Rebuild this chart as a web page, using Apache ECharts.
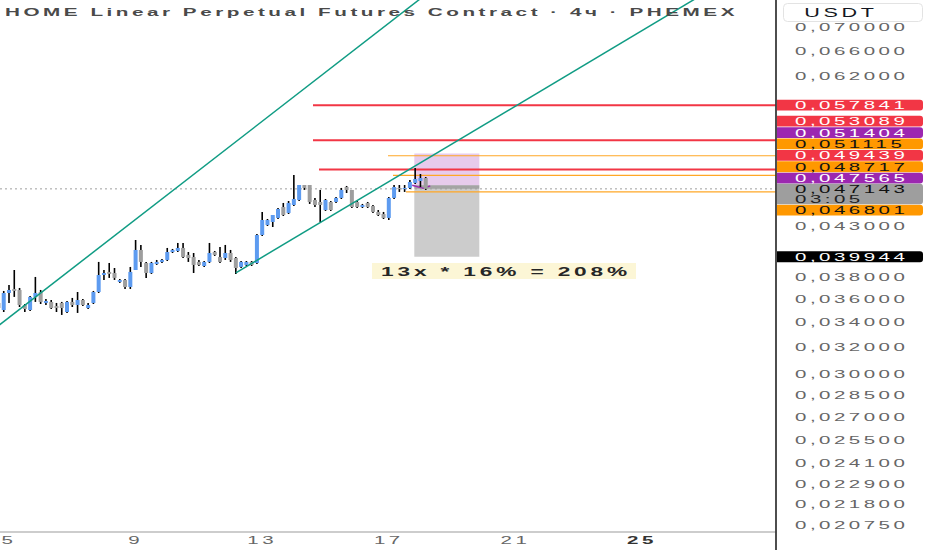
<!DOCTYPE html>
<html>
<head>
<meta charset="utf-8">
<script src="https://cdn.jsdelivr.net/npm/echarts@6.0.0/dist/echarts.min.js"></script>
<style>
html,body{margin:0;padding:0;background:#ffffff;}
#chart{width:932px;height:550px;}
#chart text{letter-spacing:0.17em;}
</style>
</head>
<body>
<div id="chart"></div>
<script>
// ---------- data ----------
const titleText = 'HOME Linear Perpetual Futures Contract · 4ч · PHEMEX';
const quoteText = 'USDT';
// 4h bars, first bar opens at day 4 20:00
const firstBarDay = 5 - 2 / 6;
const barStep = 1 / 6;
// [open, close, low, high]
const ohlc = [
  [0.03568,0.03524,0.03507,0.03585],[0.03507,0.03656,0.03490,0.03674],[0.03656,0.03683,0.03568,0.03728],
  [0.03692,0.03674,0.03621,0.03867],[0.03683,0.03550,0.03533,0.03701],[0.03550,0.03516,0.03490,0.03559],
  [0.03507,0.03621,0.03499,0.03629],[0.03621,0.03656,0.03577,0.03802],[0.03665,0.03577,0.03559,0.03683],
  [0.03568,0.03585,0.03550,0.03603],[0.03577,0.03524,0.03516,0.03594],[0.03542,0.03524,0.03490,0.03568],
  [0.03568,0.03524,0.03465,0.03577],[0.03490,0.03577,0.03482,0.03585],[0.03577,0.03550,0.03533,0.03612],
  [0.03550,0.03594,0.03482,0.03665],[0.03594,0.03550,0.03542,0.03603],[0.03524,0.03550,0.03516,0.03568],
  [0.03568,0.03665,0.03559,0.03674],[0.03665,0.03820,0.03656,0.03944],[0.03820,0.03839,0.03774,0.03867],
  [0.03849,0.03830,0.03793,0.03934],[0.03839,0.03793,0.03774,0.03886],[0.03756,0.03774,0.03747,0.03783],
  [0.03774,0.03710,0.03692,0.03783],[0.03710,0.03849,0.03692,0.03896],[0.03867,0.04061,0.03867,0.04161],
  [0.04061,0.03944,0.03896,0.04111],[0.03934,0.03839,0.03793,0.03944],[0.03839,0.03934,0.03830,0.03944],
  [0.03924,0.03944,0.03915,0.03963],[0.03944,0.03963,0.03934,0.03973],[0.03963,0.04041,0.03953,0.04081],
  [0.04041,0.04061,0.04031,0.04071],[0.04051,0.04081,0.04041,0.04131],[0.04081,0.03992,0.03982,0.04131],
  [0.04012,0.03982,0.03944,0.04041],[0.03992,0.03915,0.03839,0.04031],[0.03944,0.03915,0.03905,0.03963],
  [0.03905,0.03944,0.03896,0.03953],[0.03944,0.04031,0.03934,0.04131],[0.04041,0.04012,0.04002,0.04051],
  [0.03992,0.03944,0.03934,0.04091],[0.03982,0.04031,0.03963,0.04111],[0.04031,0.03963,0.03944,0.04061],
  [0.03982,0.03886,0.03830,0.03992],[0.03896,0.03944,0.03886,0.03953],[0.03915,0.03944,0.03905,0.03953],
  [0.03944,0.03915,0.03905,0.03953],[0.03934,0.04212,0.03924,0.04223],[0.04212,0.04369,0.04202,0.04456],
  [0.04316,0.04369,0.04306,0.04380],[0.04348,0.04423,0.04295,0.04423],[0.04391,0.04488,0.04380,0.04499],
  [0.04510,0.04423,0.04412,0.04555],[0.04445,0.04555,0.04434,0.04577],[0.04532,0.04599,0.04521,0.04877],
  [0.04588,0.04759,0.04577,0.04759],[0.04759,0.04725,0.04702,0.04759],[0.04759,0.04566,0.04544,0.04759],
  [0.04588,0.04532,0.04510,0.04611],[0.04566,0.04532,0.04348,0.04702],[0.04477,0.04588,0.04467,0.04599],
  [0.04566,0.04477,0.04467,0.04577],[0.04566,0.04611,0.04555,0.04622],[0.04611,0.04702,0.04599,0.04725],
  [0.04736,0.04702,0.04667,0.04748],[0.04702,0.04510,0.04499,0.04702],[0.04566,0.04510,0.04499,0.04577],
  [0.04510,0.04532,0.04499,0.04544],[0.04555,0.04510,0.04499,0.04566],[0.04521,0.04456,0.04445,0.04532],
  [0.04456,0.04423,0.04412,0.04477],[0.04434,0.04391,0.04380,0.04456],[0.04391,0.04611,0.04369,0.04622],
  [0.04611,0.04736,0.04599,0.04759],[0.04725,0.04713,0.04679,0.04759],[0.04713,0.04725,0.04679,0.04759],
  [0.04725,0.04794,0.04713,0.04818],[0.04783,0.04829,0.04771,0.04961],[0.04806,0.04841,0.04736,0.04889],
  [0.04841,0.04714,0.04702,0.04853]
];
const priceTicks = [0.070000,0.066000,0.062000,0.043000,0.038000,0.036000,0.034000,0.032000,
                    0.030000,0.028500,0.027000,0.025500,0.024100,0.022900,0.021800,0.020750];
const dayTicks = [5, 9, 13, 17, 21, 25];
const boldDayTicks = [25];
const tagValues = [0.057841,0.053089,0.051404,0.051115,0.049439,0.048717,0.047565,0.046801,0.039944];
const tagKinds  = ['red','red','purple','orange','red','orange','purple','orange','black'];
const lastPrice = 0.047143;
const countdown = '03:05';
const levelPrices    = [0.057841,0.053089,0.049439,0.051115,0.048717,0.046801];
const levelStartDays = [14.605,14.605,14.795,16.975,17.133,17.543];
const levelKinds     = ['red','red','red','orange','orange','orange'];
const trendUpper = [[4.50,0.03342],[18.50,0.07730]];
const trendLower = [[12.1667,0.03840],[29.234,0.08435]];
const positionDays = [17.806, 19.860];
const positionEntry = 0.047565, positionStop = 0.051404, positionTarget = 0.039944;
const entryMarker = [[17.74,0.047565],[18.09,0.04720],[18.31,0.04750]];
const noteText = '13x * 16% = 208%';
const noteAt = [20.64, 0.03858];
const xMin = 4.7156, xMax = 29.234, yMin = 0.020394, yMax = 0.074771;

// ---------- styles ----------
const FONT = '"Liberation Sans", Arial, Helvetica, sans-serif';
const SX = 1.8;
const COLORS = {
  red:    {bg:'#f23645', fg:'#ffffff', line:'#f23645', w:2},
  purple: {bg:'#9c27b0', fg:'#ffffff'},
  orange: {bg:'#ff9800', fg:'#131313', line:'#ffa726', w:1.2},
  black:  {bg:'#000000', fg:'#ffffff'}
};
const UP = '#5d9bf0', DOWN = '#9e9e9e', WICK = '#000000', TREND = '#109c84';

function fmt(v){ return v.toFixed(6).replace('.', ','); }
function txt(x, y, text, o){
  o = o || {};
  return {
    type:'text', x:x, y:y, scaleX:SX, z2:o.z2 || 20,
    style:{
      text:text,
      font:(o.weight || 'normal') + ' ' + (o.size || 11.4) + 'px ' + FONT,
      fill:o.color || '#6b6b6b',
      textAlign:o.align || 'left', align:o.align || 'left',
      textVerticalAlign:'middle', verticalAlign:'middle'
    }
  };
}

const candleData = ohlc.map((r, i) => [firstBarDay + i * barStep, r[0], r[1], r[2], r[3]]);

const series = [];

// position box
series.push({
  type:'custom', z:1, clip:true, silent:true,
  data:[[positionDays[0], positionEntry]],
  encode:{x:0, y:1},
  renderItem:function(params, api){
    const x0 = api.coord([positionDays[0], positionEntry])[0];
    const x1 = api.coord([positionDays[1], positionEntry])[0];
    const yE = api.coord([positionDays[0], positionEntry])[1];
    const yS = api.coord([positionDays[0], positionStop])[1];
    const yT = api.coord([positionDays[0], positionTarget])[1];
    const yC = api.coord([positionDays[0], lastPrice])[1];
    const pts = entryMarker.map(p => api.coord(p));
    return {type:'group', children:[
      {type:'rect', shape:{x:x0, y:yS, width:x1-x0, height:yE-yS}, style:{fill:'rgba(156,39,176,0.24)'}},
      {type:'rect', shape:{x:x0, y:yE, width:x1-x0, height:yT-yE}, style:{fill:'rgba(120,120,120,0.38)'}},
      {type:'rect', shape:{x:x0, y:yE, width:x1-x0, height:yC-yE}, style:{fill:'rgba(90,90,90,0.35)'}},
      {type:'polyline', shape:{points:pts}, style:{stroke:'#9c27b0', lineWidth:1.4, fill:null}, z2:30}
    ]};
  }
});

// horizontal levels
levelPrices.forEach((p, i) => {
  const c = COLORS[levelKinds[i]];
  series.push({
    type:'line', z:2, silent:true, symbol:'none', animation:false,
    data:[[levelStartDays[i], p],[xMax, p]],
    lineStyle:{color:c.line, width:c.w}
  });
});

// current price dotted line
series.push({
  type:'line', z:2, silent:true, symbol:'none',
  data:[[xMin, lastPrice],[xMax, lastPrice]],
  lineStyle:{color:'#9e9e9e', width:1, type:[2,3]}
});

// candles
series.push({
  type:'custom', z:3, clip:true,
  data:candleData,
  encode:{x:0, y:[1,2,3,4]},
  renderItem:function(params, api){
    const t = api.value(0), o = api.value(1), c = api.value(2), l = api.value(3), h = api.value(4);
    const pO = api.coord([t, o]), pC = api.coord([t, c]);
    const pL = api.coord([t, l]), pH = api.coord([t, h]);
    const w = (api.coord([t + barStep / 2, o])[0] - api.coord([t - barStep / 2, o])[0]) * 0.76;
    const top = Math.min(pO[1], pC[1]);
    const hgt = Math.max(1.2, Math.abs(pO[1] - pC[1]));
    return {type:'group', children:[
      {type:'line', shape:{x1:pO[0], y1:pH[1], x2:pO[0], y2:pL[1]}, style:{stroke:WICK, lineWidth:1.6}},
      {type:'rect', shape:{x:pO[0] - w / 2, y:top, width:w, height:hgt}, style:{fill:c >= o ? UP : DOWN}}
    ]};
  }
});

// trend lines
[trendUpper, trendLower].forEach(tl => {
  series.push({
    type:'line', z:4, silent:true, symbol:'none', data:tl,
    lineStyle:{color:TREND, width:1.5}
  });
});

// price scale labels, tags, time labels, note
series.push({
  type:'custom', z:10, clip:false, silent:true,
  data:[[xMin, yMax]],
  encode:{x:0, y:1},
  renderItem:function(params, api){
    const ch = [];
    const right = api.coord([xMax, yMax])[0];
    const bottom = api.coord([xMin, yMin])[1];
    const lx = right + 19;
    priceTicks.forEach(v => {
      ch.push(txt(lx, api.coord([xMax, v])[1], fmt(v), {color:'#666666'}));
    });
    dayTicks.forEach(d => {
      const b = boldDayTicks.indexOf(d) >= 0;
      ch.push(txt(api.coord([d, yMin])[0], bottom + 8.5, String(d),
        {color:b ? '#333333' : '#666666', weight:b ? 'bold' : 'normal', align:'center'}));
    });
    // tags
    const H = 11.4, HC = 20.5;
    const yCur = api.coord([xMax, lastPrice])[1];
    const curTop = yCur - 5, curBot = curTop + HC;
    const tags = tagValues.map((v, i) => ({v:v, kind:tagKinds[i], y:api.coord([xMax, v])[1]}));
    let edge = curTop;
    tags.filter(t => t.v > lastPrice).sort((a, b) => a.v - b.v).forEach(t => {
      t.c = Math.min(t.y, edge - H / 2); edge = t.c - H / 2;
    });
    edge = curBot;
    tags.filter(t => t.v < lastPrice).sort((a, b) => b.v - a.v).forEach(t => {
      t.c = Math.max(t.y, edge + H / 2); edge = t.c + H / 2;
    });
    tags.forEach(t => {
      const c = COLORS[t.kind];
      ch.push({type:'rect', z2:10, shape:{x:right + 1, y:t.c - H / 2 + 0.3, width:146, height:H - 0.6, r:[0,3,3,0]}, style:{fill:c.bg}});
      ch.push(txt(lx, t.c + 0.3, fmt(t.v), {color:c.fg}));
    });
    ch.push({type:'rect', z2:10, shape:{x:right + 1, y:curTop, width:146, height:HC, r:[0,3,3,0]}, style:{fill:'#9e9e9e'}});
    ch.push(txt(lx, curTop + 5.3, fmt(lastPrice), {color:'#111111'}));
    ch.push(txt(lx, curTop + 15, countdown, {color:'#222222'}));
    // note
    const np = api.coord(noteAt);
    ch.push({type:'rect', z2:10, shape:{x:np[0] - 132, y:np[1] - 8, width:264, height:16}, style:{fill:'#fcf6d6'}});
    ch.push(txt(np[0] + 2, np[1] + 0.5, noteText, {color:'#262626', weight:'bold', size:12.6, align:'center'}));
    return {type:'group', children:ch};
  }
});

const chart = echarts.init(document.getElementById('chart'), null, {renderer:'svg'});
chart.setOption({
  animation:false,
  backgroundColor:'#ffffff',
  grid:{left:0, right:156, top:0, bottom:18, containLabel:false},
  xAxis:{
    type:'value', min:xMin, max:xMax,
    axisLabel:{show:false}, axisTick:{show:false}, splitLine:{show:false},
    axisLine:{show:true, lineStyle:{color:'#bdbdbd', width:1.5}}
  },
  yAxis:{
    type:'log', logBase:10, min:yMin, max:yMax, position:'right',
    axisLabel:{show:false}, axisTick:{show:false}, splitLine:{show:false}, axisLine:{show:false}
  },
  graphic:[
    {type:'line', z:100, shape:{x1:776, y1:0, x2:776, y2:550}, style:{stroke:'#3a3a3a', lineWidth:1.8}},
    {type:'text', x:5, y:12, scaleX:SX, z:100,
     style:{text:titleText, font:'bold 11.5px ' + FONT, fill:'#4a4a4a', textVerticalAlign:'middle', verticalAlign:'middle'}},
    {type:'rect', z:100, shape:{x:783.5, y:3.5, width:139, height:18, r:4}, style:{fill:'#ffffff', stroke:'#e3e3e3', lineWidth:1}},
    {type:'text', x:841, y:12.8, scaleX:SX, z:101,
     style:{text:quoteText, font:'12px ' + FONT, fill:'#131722', textAlign:'center', align:'center', textVerticalAlign:'middle', verticalAlign:'middle'}}
  ],
  series:series
});
</script>
</body>
</html>
